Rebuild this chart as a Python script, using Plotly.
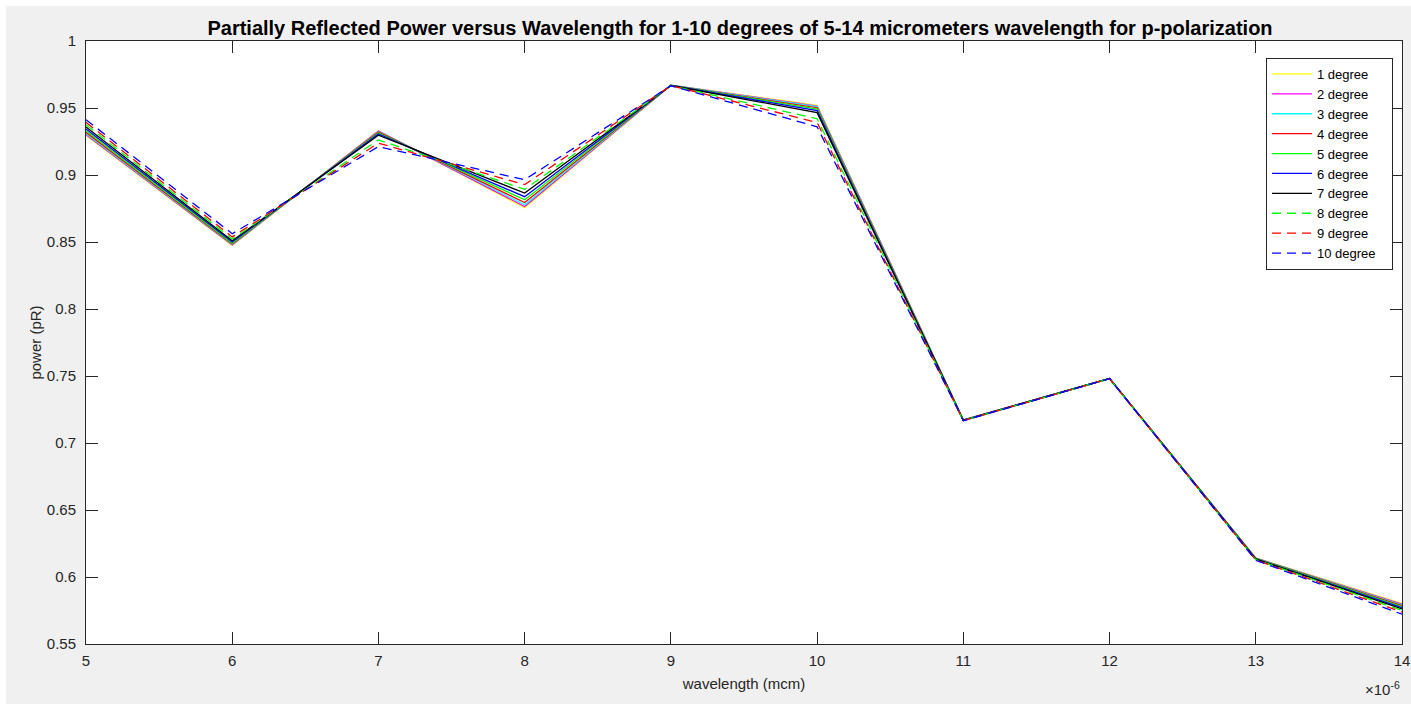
import plotly.graph_objects as go

wavelength_um = [5, 6, 7, 8, 9, 10, 11, 12, 13, 14]

deg1 = [0.9295, 0.8475, 0.9330, 0.8755, 0.9670, 0.9520, 0.7172, 0.7482, 0.6142, 0.5803]
deg2 = [0.9300, 0.8478, 0.9328, 0.8765, 0.9670, 0.9515, 0.7172, 0.7482, 0.6141, 0.5798]
deg3 = [0.9308, 0.8481, 0.9325, 0.8778, 0.9670, 0.9510, 0.7171, 0.7482, 0.6140, 0.5792]
deg4 = [0.9318, 0.8486, 0.9320, 0.8795, 0.9669, 0.9502, 0.7171, 0.7482, 0.6139, 0.5786]
deg5 = [0.9330, 0.8492, 0.9314, 0.8815, 0.9669, 0.9492, 0.7170, 0.7481, 0.6137, 0.5779]
deg6 = [0.9343, 0.8500, 0.9306, 0.8838, 0.9668, 0.9480, 0.7170, 0.7481, 0.6135, 0.5771]
deg7 = [0.9358, 0.8510, 0.9297, 0.8865, 0.9668, 0.9465, 0.7169, 0.7481, 0.6133, 0.5762]
deg8 = [0.9375, 0.8522, 0.9262, 0.8893, 0.9667, 0.9420, 0.7168, 0.7480, 0.6130, 0.5750]
deg9 = [0.9393, 0.8538, 0.9238, 0.8928, 0.9667, 0.9392, 0.7167, 0.7480, 0.6127, 0.5738]
deg10 = [0.9413, 0.8562, 0.9212, 0.8965, 0.9666, 0.9360, 0.7166, 0.7480, 0.6124, 0.5722]

series = [deg1, deg2, deg3, deg4, deg5, deg6, deg7, deg8, deg9, deg10]
names = ["1 degree", "2 degree", "3 degree", "4 degree", "5 degree",
         "6 degree", "7 degree", "8 degree", "9 degree", "10 degree"]
colors = ["#ffff00", "#ff00ff", "#00ffff", "#ff0000", "#00ff00",
          "#0000ff", "#000000", "#00ff00", "#ff0000", "#0000ff"]
dashes = ["solid"] * 7 + ["dash"] * 3

x_ticks = [5, 6, 7, 8, 9, 10, 11, 12, 13, 14]
y_ticks = [0.55, 0.6, 0.65, 0.7, 0.75, 0.8, 0.85, 0.9, 0.95, 1]
y_tick_labels = ["0.55", "0.6", "0.65", "0.7", "0.75", "0.8", "0.85", "0.9", "0.95", "1"]

fig = go.Figure()
for vals, name, col, dash in zip(series, names, colors, dashes):
    fig.add_trace(go.Scatter(
        x=wavelength_um, y=vals, mode="lines", name=name + "\u00a0\u00a0\u00a0",
        line=dict(color=col, width=1.3, dash="solid" if dash == "solid" else "9px,6px"),
    ))

axis_color = "#262626"
font_fam = "Liberation Sans, Arial, Helvetica, sans-serif"

W, H = 1411, 704
L, R, T, B = 86, 9, 41, 60
pw, ph = W - L - R, H - T - B


def px_x(p):
    return (p - L) / pw


def px_y(p):
    return (H - B - p) / ph


fig.update_layout(
    width=W, height=H,
    margin=dict(l=L, r=R, t=T, b=B, autoexpand=False),
    paper_bgcolor="#ffffff",
    plot_bgcolor="#ffffff",
    font=dict(family=font_fam, size=15, color=axis_color),
    title=dict(
        text="<b>Partially Reflected Power versus Wavelength for 1-10 degrees of 5-14 micrometers wavelength for p-polarization</b>",
        x=(740 / W), xanchor="center", xref="container",
        y=1 - 28 / H, yanchor="middle", yref="container",
        font=dict(family=font_fam, size=20, color="#000000"),
    ),
    showlegend=True,
    legend=dict(
        x=px_x(1393), xanchor="right", y=px_y(58), yanchor="top",
        bgcolor="#ffffff", bordercolor="#262626", borderwidth=1,
        font=dict(family=font_fam, size=13, color="#000000"),
        tracegroupgap=0, itemwidth=40,
    ),
    xaxis=dict(
        range=[5, 14], tickvals=x_ticks, ticktext=[str(v) for v in x_ticks],
        showgrid=False, zeroline=False, showline=True, linecolor=axis_color, linewidth=1,
        mirror="ticks", ticks="inside", ticklen=12, tickcolor=axis_color,
        ticklabelstandoff=3,
        title=dict(text="wavelength (mcm)", standoff=10, font=dict(size=15, color=axis_color)),
    ),
    yaxis=dict(
        range=[0.55, 1], tickvals=y_ticks, ticktext=y_tick_labels,
        showgrid=False, zeroline=False, showline=True, linecolor=axis_color, linewidth=1,
        mirror="ticks", ticks="inside", ticklen=12, tickcolor=axis_color,
        ticklabelstandoff=6,
        title=dict(text="power (pR)", standoff=1, font=dict(size=15, color=axis_color)),
    ),
    shapes=[
        dict(type="rect", xref="paper", yref="paper", layer="below",
             x0=px_x(6), x1=px_x(W + 5), y0=px_y(H + 5), y1=px_y(6),
             fillcolor="#f0f0f0", line=dict(width=0)),
        dict(type="rect", xref="paper", yref="paper", layer="below",
             x0=0, x1=1, y0=0, y1=1,
             fillcolor="#ffffff", line=dict(width=0)),
    ],
)

fig.add_annotation(
    text="×10<sup>-6</sup>", xref="paper", yref="paper", x=1.0, y=0,
    xanchor="right", yanchor="top", yshift=-33, showarrow=False,
    font=dict(family=font_fam, size=15, color=axis_color),
)

fig.write_html("out.html")
